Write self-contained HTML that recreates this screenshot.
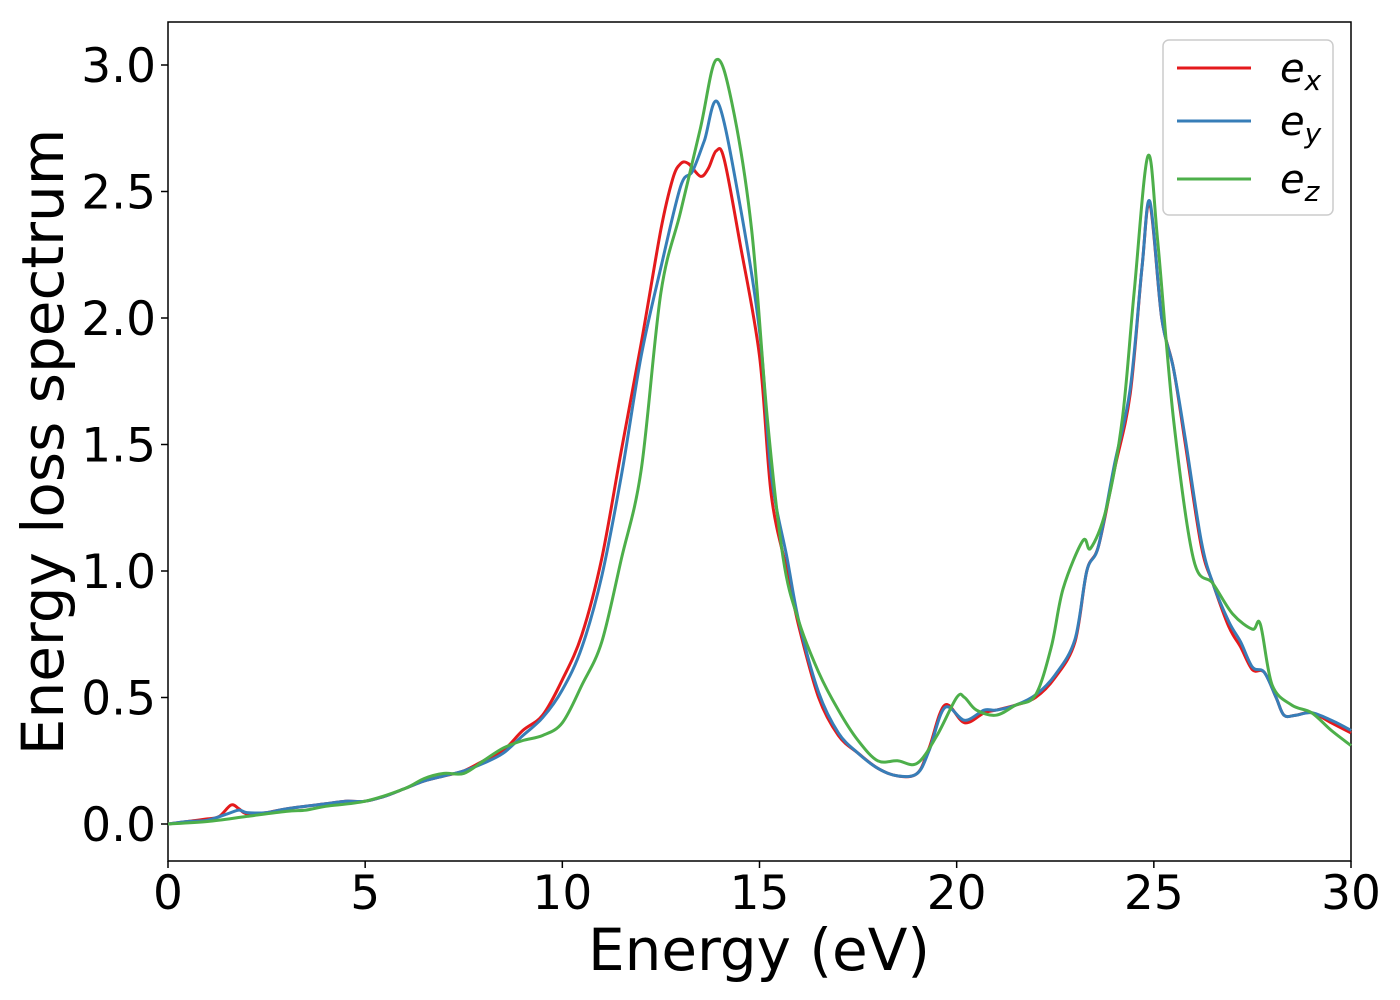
<!DOCTYPE html>
<html><head><meta charset="utf-8"><style>
html,body{margin:0;padding:0;background:#fff;}
svg{display:block;font-family:"DejaVu Sans","Liberation Sans",sans-serif;}
</style></head><body>
<svg id="chart" width="1400" height="1000" viewBox="0 0 1400 1000">
<rect x="168" y="22" width="1183" height="839" fill="#fff" stroke="#000" stroke-width="1.5"/>
<g id="series"></g>
<g id="xticks"></g>
<g id="yticks"></g>
<text x="759" y="970" font-size="58" text-anchor="middle">Energy (eV)</text>
<text transform="translate(63,442) rotate(-90)" font-size="58" text-anchor="middle">Energy loss spectrum</text>
<g>
<rect x="1163" y="40" width="170" height="175" rx="6" fill="#fff" stroke="#ccc" stroke-width="1.5"/>
<line x1="1177" y1="68" x2="1251" y2="68" stroke="#e41a1c" stroke-width="3"/>
<text x="1280" y="82" font-size="40" font-style="italic">e<tspan font-size="28" dy="8">x</tspan></text>
<line x1="1177" y1="121" x2="1251" y2="121" stroke="#377eb8" stroke-width="3"/>
<text x="1280" y="135" font-size="40" font-style="italic">e<tspan font-size="28" dy="8">y</tspan></text>
<line x1="1177" y1="179" x2="1251" y2="179" stroke="#4daf4a" stroke-width="3"/>
<text x="1280" y="193" font-size="40" font-style="italic">e<tspan font-size="28" dy="8">z</tspan></text>
</g>
</svg>
<script>
const xTicks=[0,5,10,15,20,25,30];
const yTicks=[0.0,0.5,1.0,1.5,2.0,2.5,3.0];
const exX=[0,0.5,1,1.3,1.6,1.8,2,2.5,3,4,4.5,5,5.5,6,6.5,7,7.5,8,8.5,9,9.5,10,10.5,11,11.5,12,12.5,12.8,13,13.2,13.5,13.7,13.9,14.1,14.5,15,15.3,15.7,16,16.5,17,17.5,18,18.5,19,19.3,19.7,20.2,20.7,21,21.5,22,22.5,23,23.3,23.6,24,24.4,24.7,24.9,25.2,25.5,25.8,26.2,26.5,26.9,27.2,27.5,27.8,28.1,28.3,28.6,29,29.5,30];
const exY=[0,0.01,0.02,0.03,0.075,0.06,0.04,0.045,0.06,0.08,0.09,0.09,0.11,0.14,0.17,0.19,0.21,0.25,0.29,0.37,0.43,0.57,0.75,1.05,1.48,1.9,2.35,2.55,2.61,2.61,2.56,2.59,2.66,2.63,2.3,1.85,1.3,1.0,0.78,0.5,0.35,0.28,0.22,0.19,0.2,0.3,0.47,0.4,0.44,0.45,0.47,0.5,0.58,0.72,1.0,1.1,1.4,1.7,2.2,2.45,2.0,1.8,1.5,1.1,0.95,0.78,0.7,0.61,0.6,0.5,0.43,0.43,0.44,0.4,0.36];
const eyX=[0,0.5,1,1.5,1.8,2,2.5,3,4,4.5,5,5.5,6,6.5,7,7.5,8,8.5,9,9.5,10,10.5,11,11.5,12,12.5,13,13.3,13.6,13.95,14.5,15,15.3,15.7,16,16.5,17,17.5,18,18.5,19,19.3,19.7,20.2,20.7,21,21.5,22,22.5,23,23.3,23.6,24,24.4,24.7,24.9,25.2,25.5,25.8,26.2,26.5,26.9,27.2,27.5,27.8,28.1,28.3,28.6,29,29.5,30];
const eyY=[0,0.01,0.015,0.04,0.055,0.045,0.045,0.06,0.08,0.09,0.09,0.11,0.14,0.17,0.19,0.21,0.24,0.28,0.35,0.42,0.53,0.7,0.98,1.38,1.85,2.2,2.52,2.58,2.7,2.85,2.45,1.95,1.38,1.05,0.8,0.52,0.36,0.28,0.22,0.19,0.2,0.29,0.46,0.41,0.45,0.45,0.47,0.51,0.59,0.73,1.0,1.1,1.42,1.72,2.2,2.46,2.0,1.8,1.52,1.12,0.95,0.8,0.72,0.62,0.6,0.5,0.43,0.43,0.44,0.41,0.37];
const ezX=[0,1,2,3,3.5,4,5,6,6.5,7,7.5,8,8.5,9,9.5,10,10.5,11,11.5,12,12.5,13,13.5,13.9,14.3,14.8,15.2,15.6,16,16.5,17,17.5,18,18.5,19,19.5,20,20.2,20.5,21,21.5,22,22.4,22.7,23.2,23.4,23.8,24.2,24.5,24.85,25.1,25.5,26,26.5,27,27.5,27.7,28,28.5,29,29.5,30];
const ezY=[0,0.01,0.03,0.05,0.055,0.07,0.09,0.14,0.18,0.2,0.2,0.25,0.3,0.33,0.35,0.4,0.55,0.72,1.05,1.4,2.1,2.42,2.75,3.02,2.85,2.35,1.6,1.05,0.8,0.6,0.45,0.33,0.25,0.25,0.24,0.35,0.5,0.5,0.45,0.43,0.47,0.51,0.7,0.93,1.12,1.09,1.25,1.6,2.1,2.64,2.3,1.6,1.05,0.95,0.83,0.77,0.79,0.55,0.47,0.44,0.37,0.31];
const X0=168,X1=1351,Y0=824,Y3=65;
function sx(v){return X0+(X1-X0)*v/30;}
function sy(v){return Y0+(Y3-Y0)*v/3;}
const NS='http://www.w3.org/2000/svg';
function smoothPath(xs,ys){
  const p=xs.map((x,i)=>[sx(x),sy(ys[i])]);
  let d='M'+p[0][0].toFixed(1)+','+p[0][1].toFixed(1);
  for(let i=0;i<p.length-1;i++){
    const a=p[Math.max(i-1,0)],b=p[i],c=p[i+1],e=p[Math.min(i+2,p.length-1)];
    const c1=[b[0]+(c[0]-a[0])/6,b[1]+(c[1]-a[1])/6],c2=[c[0]-(e[0]-b[0])/6,c[1]-(e[1]-b[1])/6];
    d+=' C'+c1[0].toFixed(1)+','+c1[1].toFixed(1)+' '+c2[0].toFixed(1)+','+c2[1].toFixed(1)+' '+c[0].toFixed(1)+','+c[1].toFixed(1);
  }
  return d;
}
const sg=document.getElementById('series');
[[exX,exY,'#e41a1c','line-ex'],[eyX,eyY,'#377eb8','line-ey'],[ezX,ezY,'#4daf4a','line-ez']].forEach(s=>{
  const el=document.createElementNS(NS,'path');
  el.setAttribute('d',smoothPath(s[0],s[1]));
  el.setAttribute('fill','none');el.setAttribute('stroke',s[2]);el.setAttribute('stroke-width','3');
  
  
  sg.appendChild(el);
});
const xg=document.getElementById('xticks');
xTicks.forEach(t=>{
  const l=document.createElementNS(NS,'line');
  l.setAttribute('x1',sx(t));l.setAttribute('x2',sx(t));l.setAttribute('y1',861);l.setAttribute('y2',868);l.setAttribute('stroke','#000');l.setAttribute('stroke-width','1.5');
  
  
  xg.appendChild(l);
  const tx=document.createElementNS(NS,'text');
  tx.setAttribute('x',sx(t));tx.setAttribute('y',909);tx.setAttribute('font-size','47');tx.setAttribute('text-anchor','middle');
  tx.textContent=String(t);
  
  
  xg.appendChild(tx);
});
const yg=document.getElementById('yticks');
yTicks.forEach(t=>{
  const l=document.createElementNS(NS,'line');
  l.setAttribute('x1',161);l.setAttribute('x2',168);l.setAttribute('y1',sy(t));l.setAttribute('y2',sy(t));l.setAttribute('stroke','#000');l.setAttribute('stroke-width','1.5');
  
  
  yg.appendChild(l);
  const tx=document.createElementNS(NS,'text');
  tx.setAttribute('x',156);tx.setAttribute('y',sy(t)+17);tx.setAttribute('font-size','47');tx.setAttribute('text-anchor','end');
  tx.textContent=t.toFixed(1);
  
  
  yg.appendChild(tx);
});
</script>
</body></html>
